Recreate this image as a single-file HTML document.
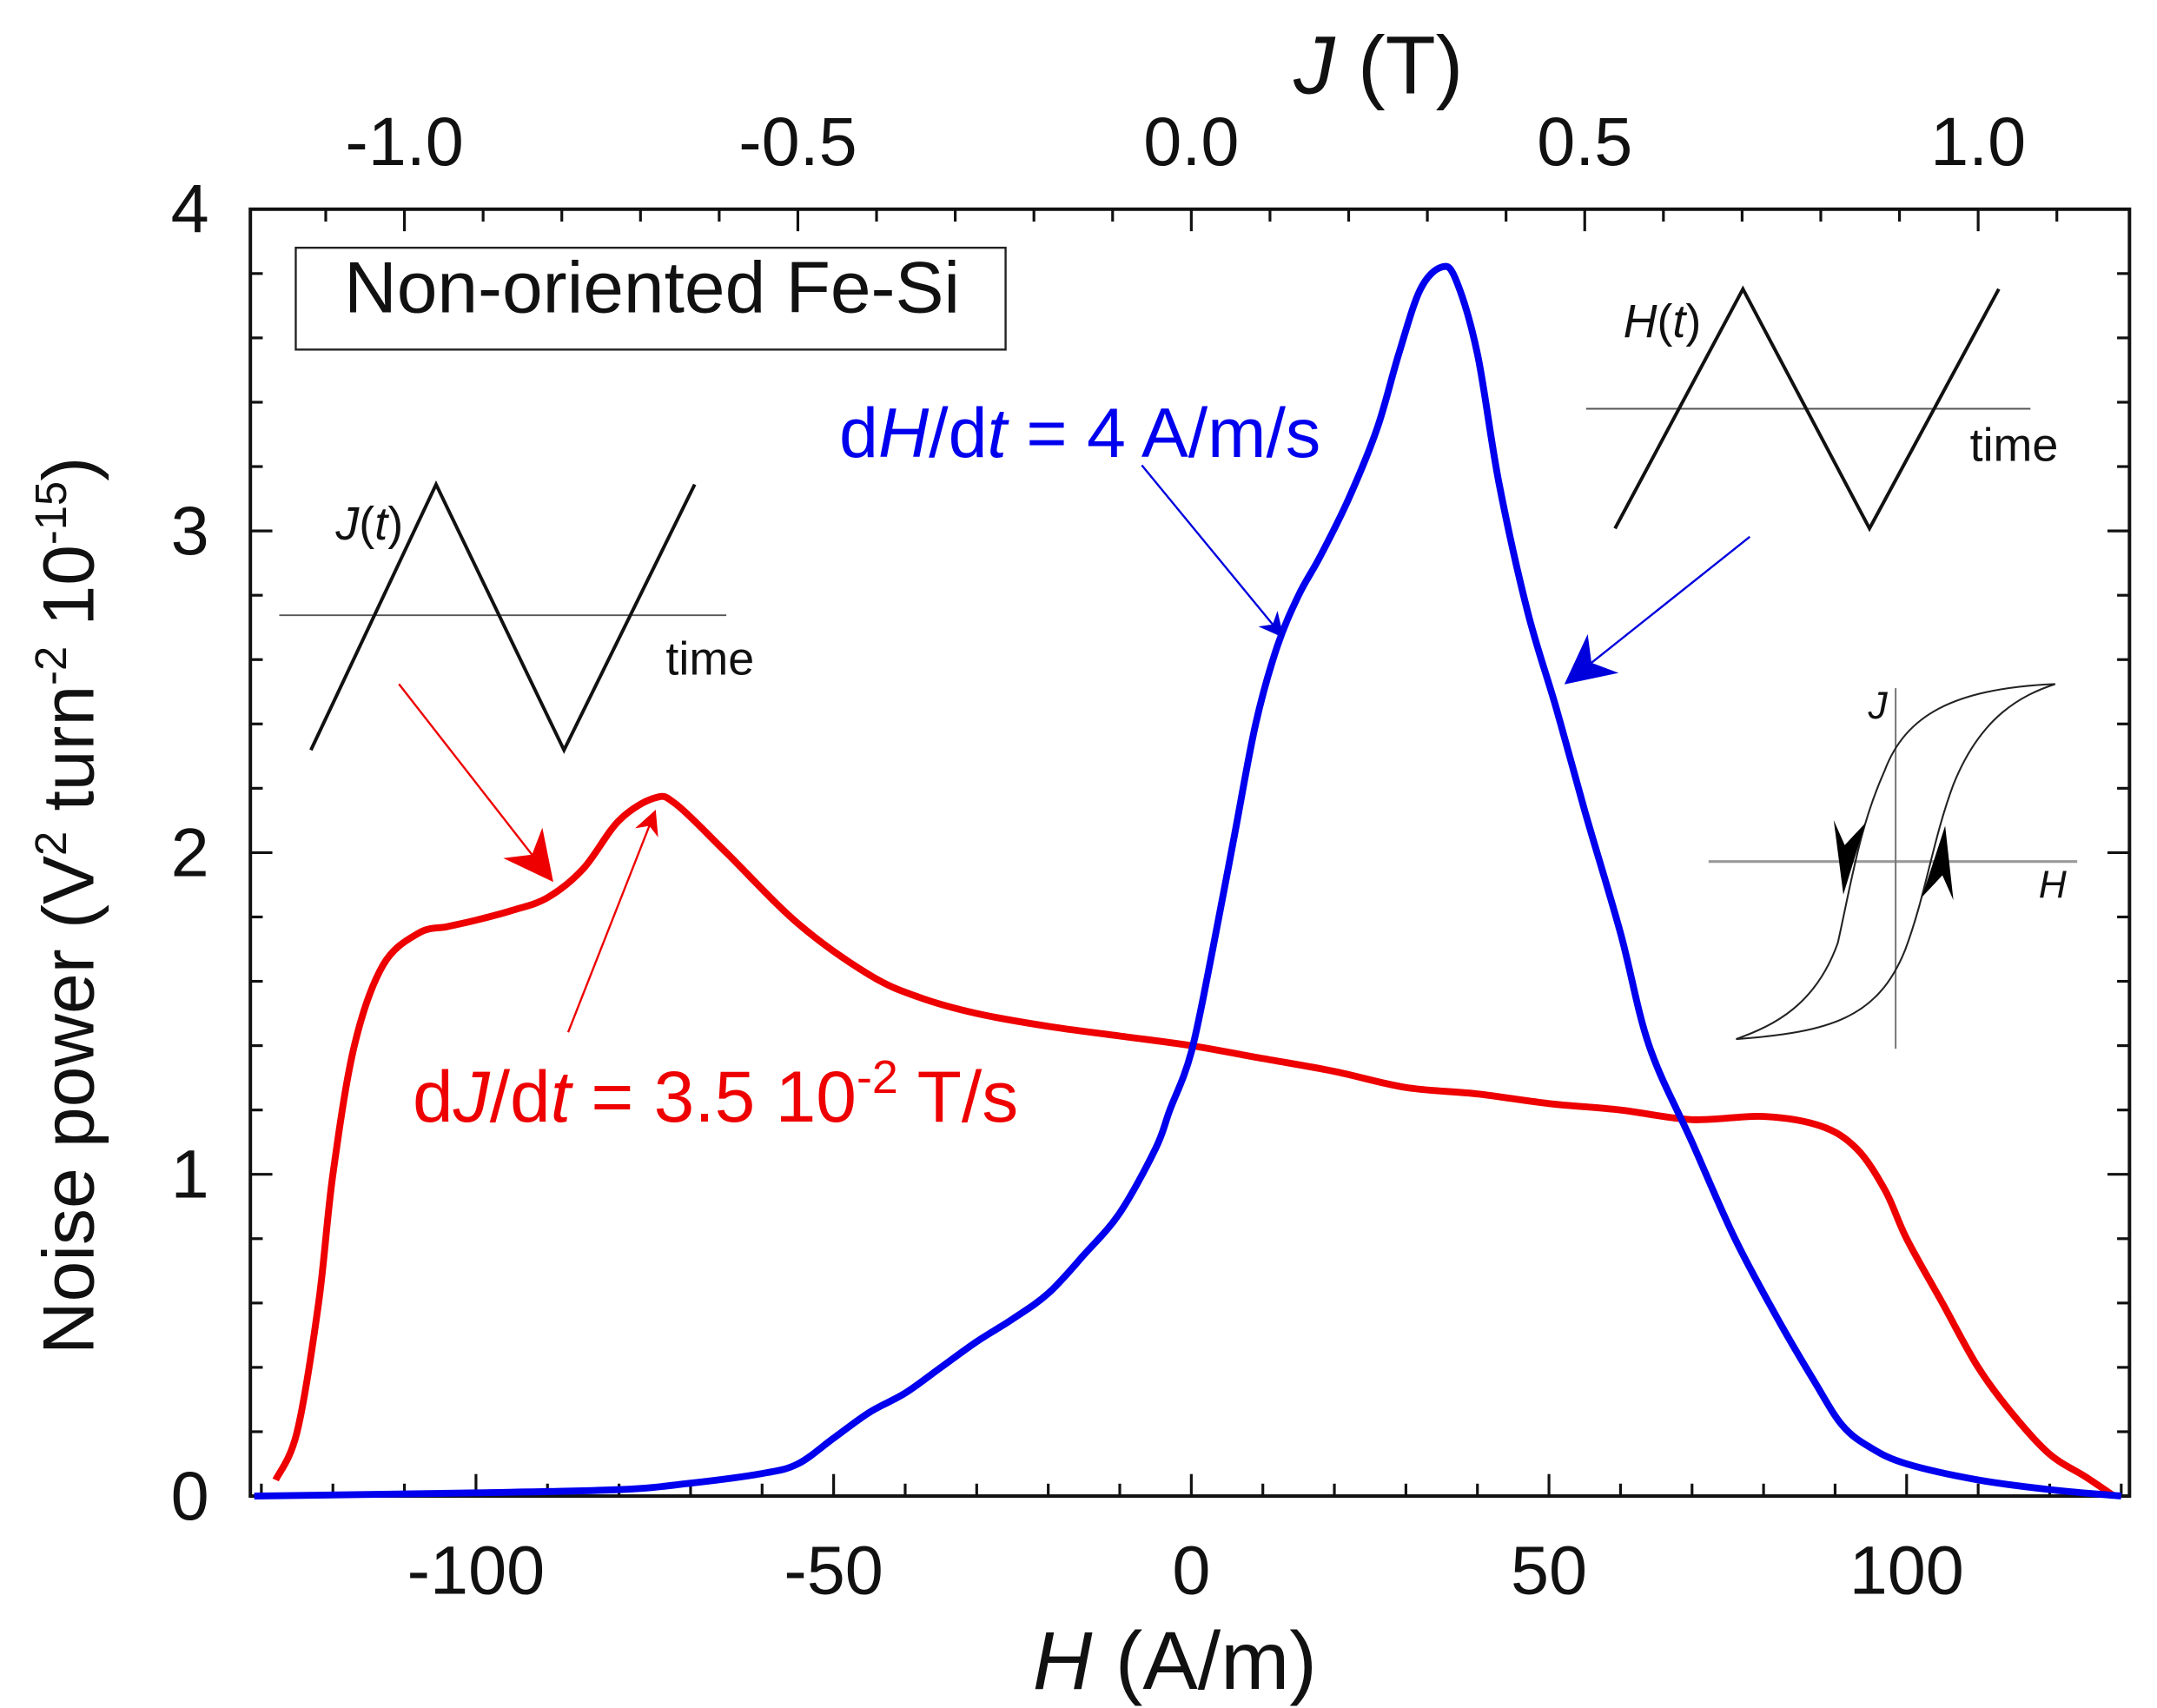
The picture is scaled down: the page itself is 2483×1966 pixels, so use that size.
<!DOCTYPE html>
<html><head><meta charset="utf-8"><style>html,body{margin:0;padding:0;background:#fff}svg{display:block}text{font-family:"Liberation Sans",sans-serif}</style></head>
<body>
<svg id="chart" width="2483" height="1966" viewBox="0 0 1568 1241" preserveAspectRatio="none" xmlns="http://www.w3.org/2000/svg">
<defs>
<marker id="abBig" viewBox="0 0 10 10" refX="9" refY="5" markerWidth="36" markerHeight="36" orient="auto" markerUnits="userSpaceOnUse"><path d="M0,0 L10,5 L0,10 L3,5 z" fill="#0000dd"/></marker>
<marker id="abSm" viewBox="0 0 10 10" refX="9" refY="5" markerWidth="18" markerHeight="18" orient="auto" markerUnits="userSpaceOnUse"><path d="M0,0 L10,5 L0,10 L3,5 z" fill="#0000dd"/></marker>
<marker id="arBig" viewBox="0 0 10 10" refX="9" refY="5" markerWidth="36" markerHeight="36" orient="auto" markerUnits="userSpaceOnUse"><path d="M0,0 L10,5 L0,10 L3,5 z" fill="#ee0000"/></marker>
<marker id="arSm" viewBox="0 0 10 10" refX="9" refY="5" markerWidth="18" markerHeight="18" orient="auto" markerUnits="userSpaceOnUse"><path d="M0,0 L10,5 L0,10 L3,5 z" fill="#ee0000"/></marker>
</defs>
<g id="axes"></g>
<g id="series"></g>
<rect x="215" y="180" width="516" height="74" fill="#fff" stroke="#222" stroke-width="1.5"/>
<text x="474" y="227" font-size="53" text-anchor="middle" fill="#111">Non-oriented Fe-Si</text>
<g fill="none" stroke="#111">
<line x1="203" y1="447" x2="528" y2="447" stroke="#555" stroke-width="1.2"/>
<polyline points="226,545 317,352 410,545 505,352" stroke-width="2.5"/>
</g>
<text x="244" y="392" font-size="34" fill="#111"><tspan font-style="italic">J</tspan>(<tspan font-style="italic">t</tspan>)</text>
<text x="484" y="490" font-size="34" fill="#111">time</text>
<g fill="none" stroke="#111">
<line x1="1153" y1="297" x2="1476" y2="297" stroke="#555" stroke-width="1.2"/>
<polyline points="1174,384 1267,210 1359,384 1453,210" stroke-width="2.5"/>
</g>
<text x="1180" y="245" font-size="34" fill="#111"><tspan font-style="italic">H</tspan>(<tspan font-style="italic">t</tspan>)</text>
<text x="1432" y="335" font-size="34" fill="#111">time</text>
<g fill="none" stroke="#222" stroke-width="1.3">
<line x1="1242" y1="626" x2="1510" y2="626" stroke="#999" stroke-width="2"/>
<line x1="1378" y1="500" x2="1378" y2="762" stroke="#777"/>
<path d="M1494,497 C1420,500 1385,520 1370,560 C1352,600 1346,640 1336,685 C1320,730 1290,745 1262,755"/>
<path d="M1262,755 C1330,750 1365,740 1385,690 C1400,650 1405,610 1420,570 C1440,520 1470,505 1494,497"/>
<path d="M1340,650 L1333,596 L1341,614 L1356,598 z" fill="#000" stroke="none"/>
<path d="M1414,600 L1420,654 L1412,636 L1397,652 z" fill="#000" stroke="none"/>
</g>
<text x="1358" y="522" font-size="28" font-style="italic" fill="#111">J</text>
<text x="1482" y="652" font-size="28" font-style="italic" fill="#111">H</text>
<text x="610" y="332" font-size="51" fill="#0000ee">d<tspan font-style="italic">H</tspan>/d<tspan font-style="italic">t</tspan> = 4 A/m/s</text>
<line x1="830" y1="338" x2="932" y2="462" stroke="#0000dd" stroke-width="1.5" marker-end="url(#abSm)"/>
<line x1="1272" y1="390" x2="1140" y2="495" stroke="#0000dd" stroke-width="1.5" marker-end="url(#abBig)"/>
<text x="300" y="815" font-size="53" fill="#ee0000">d<tspan font-style="italic">J</tspan>/d<tspan font-style="italic">t</tspan> = 3.5 10<tspan font-size="34" dy="-21">-2</tspan><tspan dy="21"> T/s</tspan></text>
<line x1="290" y1="497" x2="400" y2="638" stroke="#ee0000" stroke-width="1.5" marker-end="url(#arBig)"/>
<line x1="413" y1="750" x2="476" y2="590" stroke="#ee0000" stroke-width="1.5" marker-end="url(#arSm)"/>
<text x="854" y="1227" font-size="60" text-anchor="middle" fill="#111"><tspan font-style="italic">H</tspan> (A/m)</text>
<text x="1002" y="68" font-size="60" text-anchor="middle" fill="#111"><tspan font-style="italic">J</tspan> (T)</text>
<text transform="translate(68,658) rotate(-90)" font-size="53" text-anchor="middle" fill="#111">Noise power (V<tspan font-size="32" dy="-20">2</tspan><tspan dy="20"> turn</tspan><tspan font-size="32" dy="-20">-2</tspan><tspan dy="20"> 10</tspan><tspan font-size="32" dy="-20">-15</tspan><tspan dy="20">)</tspan></text>
</svg>
<script>
const blueH=[-131,-100,-80,-70,-60,-55,-50,-45,-40,-35,-30,-25,-20,-15,-10,-5,-3,0,3,6,9,12,15,18,22,26,29,32,35,37,40,43,47,51,55,60,64,70,76,82,87,91,95,100,110,120,130];
const blueY=[0,0.01,0.02,0.04,0.07,0.1,0.18,0.26,0.32,0.4,0.48,0.55,0.63,0.75,0.88,1.08,1.2,1.38,1.7,2.05,2.4,2.64,2.8,2.92,3.1,3.32,3.55,3.75,3.82,3.78,3.55,3.15,2.75,2.45,2.13,1.75,1.4,1.1,0.8,0.55,0.36,0.22,0.15,0.1,0.05,0.02,0];
const redH=[-128,-125,-122,-120,-117,-113,-108,-104,-100,-95,-90,-85,-80,-75,-72,-65,-55,-45,-38,-30,-20,-10,0,10,20,30,40,50,60,70,80,88,93,97,100,105,110,115,120,125,129];
const redY=[0.05,0.2,0.6,1.0,1.4,1.65,1.75,1.77,1.79,1.82,1.86,1.95,2.1,2.17,2.15,2.0,1.78,1.62,1.55,1.5,1.46,1.43,1.4,1.36,1.32,1.27,1.25,1.22,1.2,1.17,1.18,1.15,1.08,0.95,0.8,0.6,0.4,0.25,0.13,0.06,0];
const xTicks=[-100,-50,0,50,100];
const yTicks=[0,1,2,3,4];
const jTicks=["-1.0","-0.5","0.0","0.5","1.0"];
var L=182,R=1548,T=152,B=1087;
function X(h){return 866+h*5.2;}
function Y(v){return B-v*233.75;}
function XJ(j){return 866+j*572;}
var NS="http://www.w3.org/2000/svg";
var ax=document.getElementById('axes'), se=document.getElementById('series');
function mk(tag,at,p){var e=document.createElementNS(NS,tag);for(var k in at)e.setAttribute(k,String(at[k]));p.appendChild(e);return e;}
var fr=mk('rect',{x:L,y:T,width:R-L,height:B-T,fill:'none',stroke:'#111','stroke-width':2.5},ax);


for(var h=-130;h<=130;h+=10){var len=(h%50===0)?16:9;
 mk('line',{x1:X(h),y1:B,x2:X(h),y2:B-len,stroke:'#111','stroke-width':2},ax);}
for(var i=-11;i<=11;i++){var jj=i/10,lenj=(i%5===0)?16:9;
 mk('line',{x1:XJ(jj),y1:T,x2:XJ(jj),y2:T+lenj,stroke:'#111','stroke-width':2},ax);}
for(var k=0;k<=20;k++){var vv=k/5,lenv=(k%5===0)?16:9;
 mk('line',{x1:L,y1:Y(vv),x2:L+lenv,y2:Y(vv),stroke:'#111','stroke-width':2},ax);
 mk('line',{x1:R,y1:Y(vv),x2:R-lenv,y2:Y(vv),stroke:'#111','stroke-width':2},ax);}
xTicks.forEach(function(h){var t=mk('text',{x:X(h),y:1158,'font-size':50,'text-anchor':'middle',fill:'#111'},ax);t.textContent=String(h);
 
 });
yTicks.forEach(function(v){var t=mk('text',{x:152,y:Y(v)+17,'font-size':50,'text-anchor':'end',fill:'#111'},ax);t.textContent=String(v);
 
 });
jTicks.forEach(function(j){var t=mk('text',{x:XJ(parseFloat(j)),y:120,'font-size':50,'text-anchor':'middle',fill:'#111'},ax);t.textContent=j;
 
 });
function smooth(xs,ys){var p=xs.map(function(x,i){return [X(x),Y(ys[i])];});var d='M'+p[0][0]+','+p[0][1];
 for(var i=0;i<p.length-1;i++){var p0=p[Math.max(0,i-1)],p1=p[i],p2=p[i+1],p3=p[Math.min(p.length-1,i+2)];
  var c1=[p1[0]+(p2[0]-p0[0])/6,p1[1]+(p2[1]-p0[1])/6],c2=[p2[0]-(p3[0]-p1[0])/6,p2[1]-(p3[1]-p1[1])/6];
  d+=' C'+c1[0]+','+c1[1]+' '+c2[0]+','+c2[1]+' '+p2[0]+','+p2[1];}return d;}
var rp=mk('path',{d:smooth(redH,redY),fill:'none',stroke:'#ee0000','stroke-width':5,'stroke-linejoin':'round'},se);


var bp=mk('path',{d:smooth(blueH,blueY),fill:'none',stroke:'#0000ee','stroke-width':5,'stroke-linejoin':'round'},se);


</script>
</body></html>
